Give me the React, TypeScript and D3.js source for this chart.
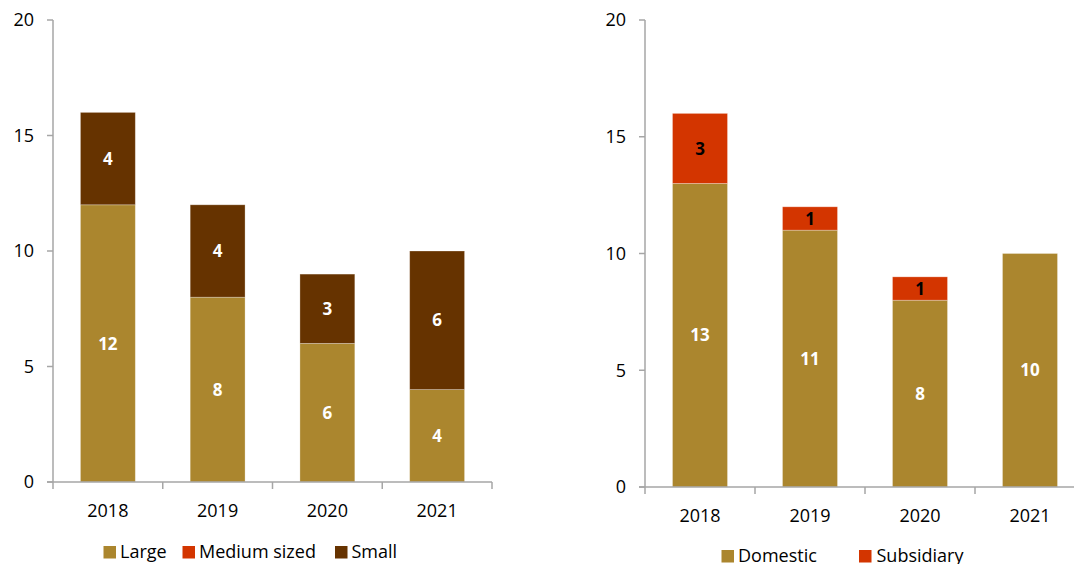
import React from "react";
import * as d3 from "d3";

const years = ["2018", "2019", "2020", "2021"];
const large = [12, 8, 6, 4];
const medium = [0, 0, 0, 0];
const small = [4, 4, 3, 6];
const domestic = [13, 11, 8, 10];
const subsidiary = [3, 1, 1, 0];
const yTicks = [0, 5, 10, 15, 20];

const GOLD = "#AB862E";
const RED = "#D33500";
const BROWN = "#663300";
const AXIS = "#A6A6A6";
const FONT = "'Open Sans', sans-serif";

type Series = { name: string; values: number[]; color: string; label: string };

function Panel({ x0, x1, yTop, yBottom, series, legend }: {
  x0: number; x1: number; yTop: number; yBottom: number; series: Series[];
  legend: { x: number; tx: number; y: number; name: string; color: string }[];
}) {
  const x = d3.scaleBand<string>().domain(years).range([x0, x1]).paddingInner(0.5).paddingOuter(0.25);
  const y = d3.scaleLinear().domain([0, 20]).range([yBottom, yTop]);
  const step = x.step();
  const stack = d3.stack<number>().keys(series.map((_, i) => String(i)))
    .value((i, k) => series[+k].values[i])(years.map((_, i) => i));
  return (
    <g>
      {stack.map((layer, si) => layer.map((d, i) => {
        const v = series[si].values[i];
        if (v <= 0) return null;
        const yt = y(d[1]), yb = y(d[0]);
        return (
          <g key={`${si}-${i}`}>
            <rect x={x(years[i])} y={yt} width={x.bandwidth()} height={yb - yt} fill={series[si].color}
              stroke="#ffffff" strokeOpacity={0.35} strokeWidth={0.8} />
            <text x={x(years[i])! + x.bandwidth() / 2} y={(yt + yb) / 2} dy="0.36em" textAnchor="middle"
              fontFamily={FONT} fontWeight="bold" fontSize={17} fill={series[si].label}>{v}</text>
          </g>
        );
      }))}
      <line x1={x0} x2={x0} y1={yTop} y2={yBottom} stroke={AXIS} strokeWidth={1.5} />
      <line x1={x0 - 6} x2={x1} y1={yBottom} y2={yBottom} stroke={AXIS} strokeWidth={1.5} />
      {yTicks.map(t => (
        <g key={t}>
          <line x1={x0 - 6} x2={x0} y1={y(t)} y2={y(t)} stroke={AXIS} strokeWidth={1.5} />
          <text x={x0 - 19} y={y(t)} dy="0.36em" textAnchor="end" fontFamily={FONT} fontSize={18} fill="#000">{t}</text>
        </g>
      ))}
      {years.map((yr, i) => (
        <g key={yr}>
          <line x1={x0 + i * step} x2={x0 + i * step} y1={yBottom} y2={yBottom + 7} stroke={AXIS} strokeWidth={1.5} />
          <text x={x(yr)! + x.bandwidth() / 2} y={yBottom + 28.5} dy="0.36em" textAnchor="middle" fontFamily={FONT} fontSize={18} fill="#000">{yr}</text>
        </g>
      ))}
      <line x1={x0 + 4 * step} x2={x0 + 4 * step} y1={yBottom} y2={yBottom + 7} stroke={AXIS} strokeWidth={1.5} />
      {legend.map(l => (
        <g key={l.name}>
          <rect x={l.x} y={l.y - 6} width={12.5} height={12.5} fill={l.color} />
          <text x={l.tx} y={l.y} dy="0.36em" fontFamily={FONT} fontSize={18} fill="#000">{l.name}</text>
        </g>
      ))}
    </g>
  );
}

export default function App() {
  return (
    <svg width={1074} height={564} style={{ position: "absolute", left: 0, top: 0, background: "#fff" }}>
      <Panel x0={53} x1={492} yTop={20} yBottom={482}
        series={[
          { name: "Large", values: large, color: GOLD, label: "#fff" },
          { name: "Medium sized", values: medium, color: RED, label: "#000" },
          { name: "Small", values: small, color: BROWN, label: "#fff" },
        ]}
        legend={[
          { x: 103.5, tx: 120, y: 552, name: "Large", color: GOLD },
          { x: 182.5, tx: 199, y: 552, name: "Medium sized", color: RED },
          { x: 335, tx: 351.5, y: 552, name: "Small", color: BROWN },
        ]} />
      <Panel x0={645} x1={1085} yTop={20} yBottom={487}
        series={[
          { name: "Domestic", values: domestic, color: GOLD, label: "#fff" },
          { name: "Subsidiary", values: subsidiary, color: RED, label: "#000" },
        ]}
        legend={[
          { x: 721.5, tx: 738, y: 556, name: "Domestic", color: GOLD },
          { x: 859, tx: 876.5, y: 556, name: "Subsidiary", color: RED },
        ]} />
    </svg>
  );
}
